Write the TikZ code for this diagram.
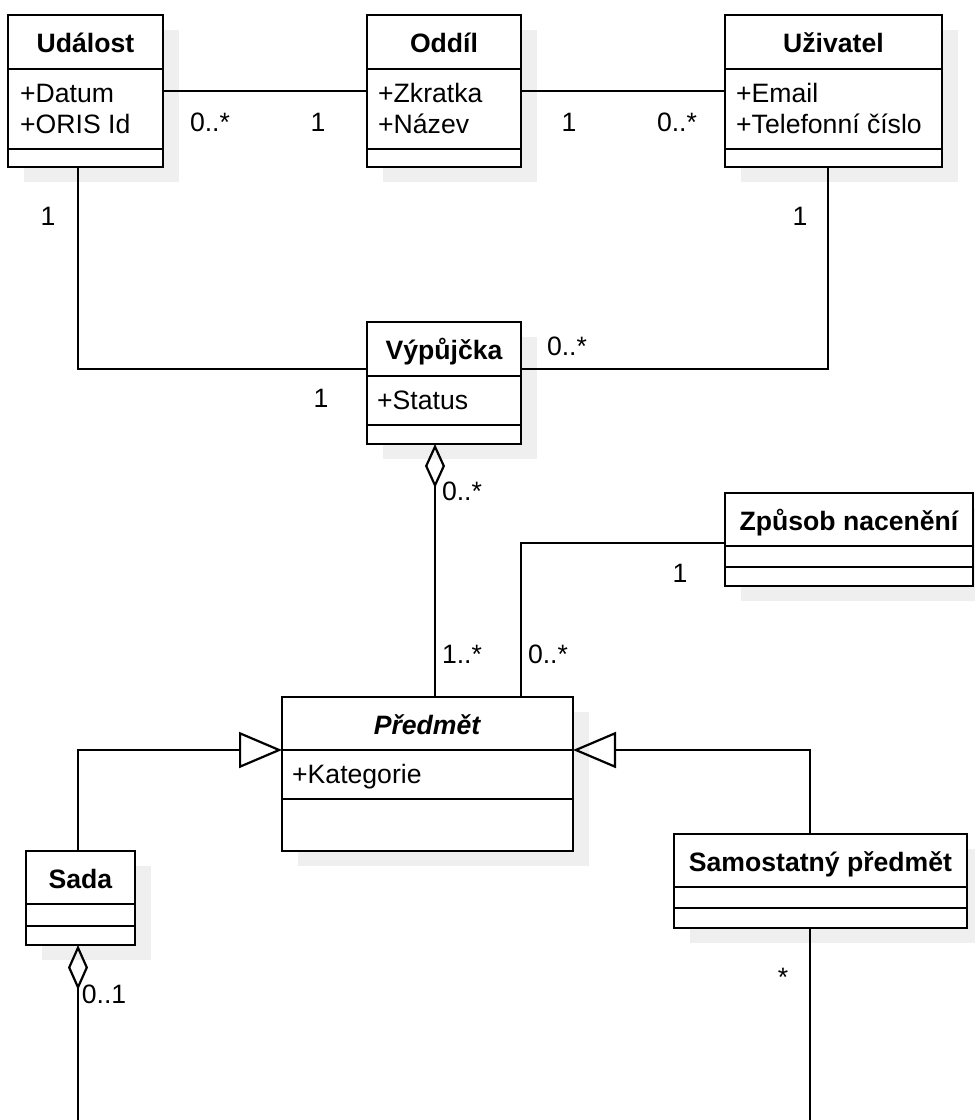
\documentclass[tikz,border=0pt]{standalone}
\usepackage{fontspec}
\setmainfont{Liberation Sans}
\usetikzlibrary{arrows.meta,calc}
\definecolor{shadowc}{HTML}{EFEFEF}
\newcommand{\bigtext}{\fontsize{26.6pt}{31pt}\selectfont}
\tikzset{
  clsbox/.style={draw, fill=white, line width=2.2pt, inner sep=0pt, outer sep=0pt, anchor=north west},
  sepline/.style={line width=2.2pt},
  ttl/.style={font=\bigtext\bfseries, anchor=base, inner sep=0pt},
  attr/.style={font=\bigtext, anchor=base west, inner sep=0pt},
  lbl/.style={font=\bigtext, inner sep=0pt},
  conn/.style={line width=2.2pt},
  aggr/.style={conn, {Diamond[open,length=44pt,width=20pt]}-},
  gener/.style={conn, -{Triangle[open,length=43pt,width=36pt]}},
}
% #1 name, #2 left, #3 top, #4 right, #5 header line y, #6 separator y, #7 bottom, #8 title
\newcommand{\umlclass}[8]{%
  \fill[shadowc] (#2+16,#3+15) rectangle (#4+16,#7+15);
  \node[clsbox, minimum width={#4-#2}, minimum height={#7-#3}] (#1) at (#2,#3) {};
  \draw[sepline] (#2,#5) -- (#4,#5);
  \draw[sepline] (#2,#6) -- (#4,#6);
  \node[ttl] (#1-t) at ({(#2+#4)/2},#3+37) {#8};
}
\begin{document}
\begin{tikzpicture}[x=1pt,y=-1pt]
\useasboundingbox (0,0) rectangle (975,1120);
\clip (0,0) rectangle (975,1120);

\umlclass{udalost}{8}{15}{163}{69}{149}{167}{Událost}
\node[attr] (udalost-a1) at (20,102) {+Datum};
\node[attr] (udalost-a2) at (20,133) {+ORIS Id};

\umlclass{oddil}{367}{15}{521}{69}{149}{167}{Oddíl}
\node[attr] (oddil-a1) at (378,102) {+Zkratka};
\node[attr] (oddil-a2) at (378,133) {+Název};

\umlclass{uzivatel}{725}{15}{942}{69}{149}{167}{Uživatel}
\node[attr] (uzivatel-a1) at (736,102) {+Email};
\node[attr] (uzivatel-a2) at (736,133) {+Telefonní číslo};

\umlclass{vypujcka}{367}{322}{521}{376}{425}{444}{Výpůjčka}
\node[attr] (vypujcka-a1) at (377,409) {+Status};

\umlclass{zpusob}{725}{493}{973}{546}{567}{586}{Způsob nacenění}

\umlclass{predmet}{282}{697}{573}{750}{799}{851}{\textit{Předmět}}
\node[attr] (predmet-a1) at (292,783) {+Kategorie};

\umlclass{sada}{26}{851}{135}{904}{926}{945}{Sada}

\umlclass{samost}{674}{834}{967}{887}{908}{928}{Samostatný předmět}

% connectors
\draw[conn] (udalost.east) -- (oddil.west);
\draw[conn] (oddil.east) -- (uzivatel.west);
\draw[conn] ([xshift=-7.5pt]udalost.south) |- ([yshift=-47pt]vypujcka.north west);
\draw[conn] ([yshift=-47pt]vypujcka.north east) -| ([xshift=-5.5pt]uzivatel.south);
\coordinate (d1) at ([xshift=-9pt]vypujcka.south);
\draw[aggr] (d1) -- (d1 |- predmet.north);
\draw[conn] ([xshift=93.5pt]predmet.north) |- ([yshift=-50pt]zpusob.north west);
\draw[gener] ([xshift=-2.5pt]sada.north) |- ([yshift=-53pt]predmet.north west);
\draw[gener] ([xshift=-10.5pt]samost.north) |- ([yshift=-53pt]predmet.north east);
\coordinate (d2) at ([xshift=-2.5pt]sada.south);
\coordinate (sadaend) at (78,1125);
\draw[conn, {Diamond[open,length=45pt,width=20pt]}-] (d2) -- (sadaend);
\coordinate (samend) at (810,1125);
\draw[conn] ([xshift=-10.5pt]samost.south) -- (samend);

% multiplicities
\node[lbl] (m1) at (210,122) {0..*};
\node[lbl] (m2) at (318,122) {1};
\node[lbl] (m3) at (569,122) {1};
\node[lbl] (m4) at (677,122) {0..*};
\node[lbl] (m5) at (48,216) {1};
\node[lbl] (m6) at (800,216) {1};
\node[lbl] (m7) at (321,398) {1};
\node[lbl] (m8) at (567,346) {0..*};
\node[lbl] (m9) at (462,491) {0..*};
\node[lbl] (m10) at (462,654) {1..*};
\node[lbl] (m11) at (548,654) {0..*};
\node[lbl] (m12) at (680,573) {1};
\node[lbl] (m13) at (104,994) {0..1};
\node[lbl, anchor=base] (m14) at (783,986) {*};
\end{tikzpicture}
\end{document}
